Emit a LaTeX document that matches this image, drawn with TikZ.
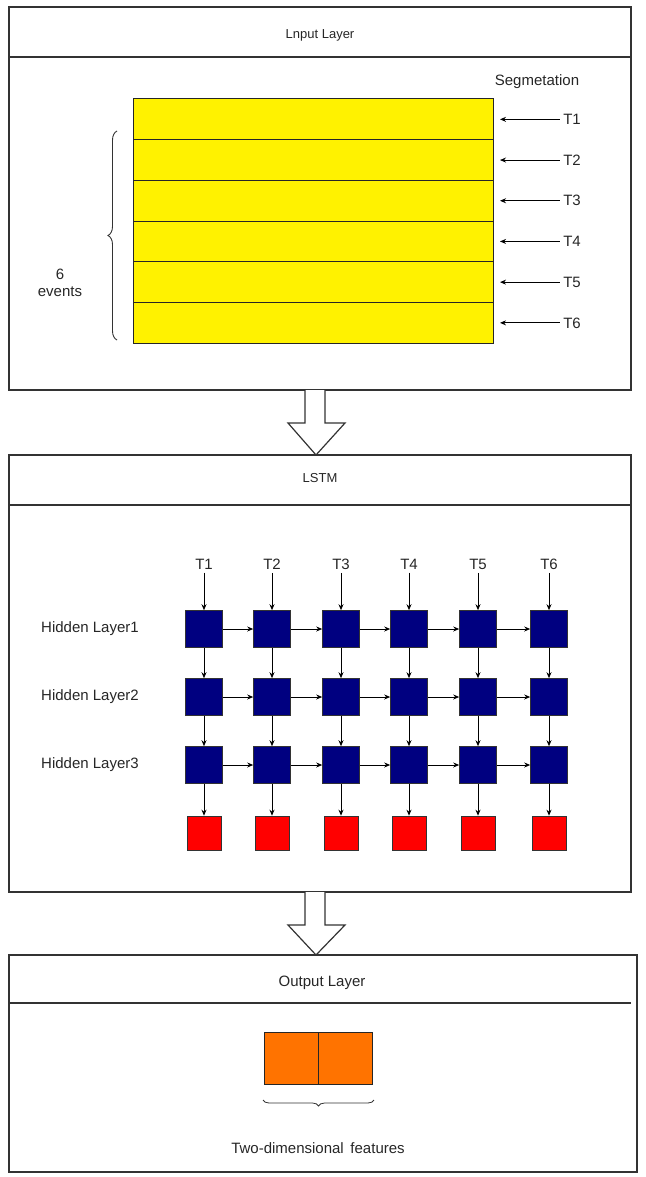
\documentclass[tikz,border=0pt]{standalone}
\usepackage{fontspec}
\setmainfont{Liberation Sans}
\usetikzlibrary{arrows.meta,decorations.pathreplacing}
\begin{document}
\begin{tikzpicture}[x=1pt,y=-1pt,
  frame/.style={draw=black!80,line width=1.2pt},
  lbl/.style={font=\fontsize{15}{17}\selectfont,text=black!85},
  ttl/.style={font=\fontsize{13}{15}\selectfont,text=black!85},
  cell/.style={draw=black!80,fill=blue!50!black,minimum size=37pt,inner sep=0pt,line width=0.6pt},
  ocell/.style={draw=black!80,fill=red,minimum size=34pt,inner sep=0pt,line width=0.6pt},
  arr/.style={-{Stealth[length=6pt,width=5pt]},line width=0.9pt},
  big/.style={draw=black!80,fill=white,line width=1.2pt}]
\useasboundingbox (0,0) rectangle (645,1177);
% box 1
\draw[frame] (9,7) rectangle (631,390);
\draw[frame] (9,57) -- (631,57);
\node[ttl] (t1) at (320,35) {Lnput Layer};
\node[lbl] (seg) at (537,82) {Segmetation};
\foreach \i in {1,...,6}{
  \pgfmathsetmacro\ya{99+(\i-1)*40.7}
  \pgfmathsetmacro\yb{99+\i*40.7}
  \pgfmathsetmacro\yc{99+(\i-0.5)*40.7}
  \draw[draw=black!85,fill=yellow,line width=1pt] (133,\ya) rectangle (493,\yb);
  \node[lbl] (s\i) at (572,\yc) {T\i};
  \coordinate (e\i) at (500,\yc);
  \draw[arr] (s\i.west) -- (e\i);
}
\draw[decorate,decoration={brace,amplitude=9pt},line width=0.9pt,black!80] (117,340) -- (117,131);
\node[lbl,align=center] (ev) at (60,283) {6\\events};
% arrow 1
\draw[big] (305,390) -- (305,423) -- (288,423) -- (316,455) -- (345,423) -- (325,423) -- (325,390);
% box 2
\draw[frame] (9,455) rectangle (631,892);
\draw[frame] (9,505) -- (631,505);
\node[ttl] (t2) at (320,478) {LSTM};
\foreach \c/\x in {1/204,2/272,3/341,4/409,5/478,6/549}{
  \node[lbl] (T\c) at (\x,564) {T\c};
  \node[cell] (a\c) at (\x,629) {};
  \node[cell] (b\c) at (\x,697) {};
  \node[cell] (c\c) at (\x,765) {};
  \node[ocell] (r\c) at (\x,833) {};
  \draw[arr] (T\c) -- (a\c);
  \draw[arr] (a\c) -- (b\c);
  \draw[arr] (b\c) -- (c\c);
  \draw[arr] (c\c) -- (r\c);
}
\foreach \p/\q in {1/2,2/3,3/4,4/5,5/6}{
  \draw[arr] (a\p) -- (a\q);
  \draw[arr] (b\p) -- (b\q);
  \draw[arr] (c\p) -- (c\q);
}
\node[lbl] (h1) at (90,629) {Hidden Layer1};
\node[lbl] (h2) at (90,697) {Hidden Layer2};
\node[lbl] (h3) at (90,765) {Hidden Layer3};
% arrow 2
\draw[big] (305,892) -- (305,925) -- (288,925) -- (316,955) -- (345,925) -- (325,925) -- (325,892);
% box 3
\draw[frame] (9,955) rectangle (637,1172);
\draw[frame] (9,1003) -- (631,1003);
\node[lbl] (t3) at (322,983) {Output Layer};
\draw[draw=black!85,fill=orange!90!red,line width=1pt] (264,1032) rectangle (372,1084);
\draw[black!85,line width=1pt] (318,1032) -- (318,1084);
\draw[decorate,decoration={brace,amplitude=6pt},line width=0.8pt,black!80] (374,1100) -- (263,1100);
\node[lbl] (tw) at (318,1148) {Two-dimensional\, features};
\end{tikzpicture}
\end{document}
